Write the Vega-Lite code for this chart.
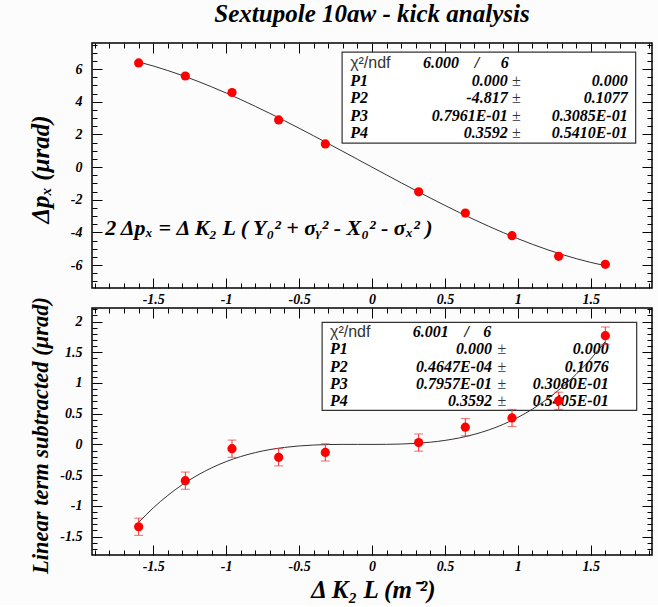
{
  "$schema": "https://vega.github.io/schema/vega-lite/v6.json",
  "autosize": {"type": "pad"},
  "padding": {"left": 27, "top": 1, "right": 7, "bottom": 2},
  "background": "#fcfcfc",
  "title": {"text": "Sextupole 10aw - kick analysis", "font": "Liberation Serif", "fontSize": 25, "fontWeight": "bold", "fontStyle": "italic", "color": "black", "anchor": "middle", "frame": "group", "offset": 15},
  "spacing": 20,
  "bounds": "flush",
  "datasets": {
    "topPts": [{"k": -1.6, "dp": 6.38}, {"k": -1.28, "dp": 5.58}, {"k": -0.96, "dp": 4.57}, {"k": -0.64, "dp": 2.89}, {"k": -0.32, "dp": 1.42}, {"k": 0.32, "dp": -1.51}, {"k": 0.64, "dp": -2.81}, {"k": 0.96, "dp": -4.2}, {"k": 1.28, "dp": -5.46}, {"k": 1.6, "dp": -5.95}],
    "botPts": [{"k": -1.6, "r": -1.34, "err": 0.14}, {"k": -1.28, "r": -0.59, "err": 0.14}, {"k": -0.96, "r": -0.07, "err": 0.14}, {"k": -0.64, "r": -0.21, "err": 0.14}, {"k": -0.32, "r": -0.13, "err": 0.14}, {"k": 0.32, "r": 0.03, "err": 0.14}, {"k": 0.64, "r": 0.28, "err": 0.14}, {"k": 0.96, "r": 0.43, "err": 0.14}, {"k": 1.28, "r": 0.71, "err": 0.14}, {"k": 1.6, "r": 1.77, "err": 0.14}],
    "topFit": [{"k": -1.6, "f": 6.4397}, {"k": -1.5, "f": 6.1923}, {"k": -1.4, "f": 5.9142}, {"k": -1.3, "f": 5.6074}, {"k": -1.2, "f": 5.2743}, {"k": -1.1, "f": 4.9169}, {"k": -1, "f": 4.5374}, {"k": -0.9, "f": 4.1379}, {"k": -0.8, "f": 3.7207}, {"k": -0.7, "f": 3.2877}, {"k": -0.6, "f": 2.8413}, {"k": -0.5, "f": 2.3835}, {"k": -0.4, "f": 1.9165}, {"k": -0.3, "f": 1.4426}, {"k": -0.2, "f": 0.9637}, {"k": -0.1, "f": 0.4821}, {"k": 0, "f": 0}, {"k": 0.1, "f": -0.4805}, {"k": 0.2, "f": -0.9573}, {"k": 0.3, "f": -1.4282}, {"k": 0.4, "f": -1.8911}, {"k": 0.5, "f": -2.3437}, {"k": 0.6, "f": -2.7839}, {"k": 0.7, "f": -3.2097}, {"k": 0.8, "f": -3.6187}, {"k": 0.9, "f": -4.0089}, {"k": 1, "f": -4.3782}, {"k": 1.1, "f": -4.7243}, {"k": 1.2, "f": -5.0451}, {"k": 1.3, "f": -5.3384}, {"k": 1.4, "f": -5.6022}, {"k": 1.5, "f": -5.8341}, {"k": 1.6, "f": -6.0321}],
    "botFit": [{"k": -1.6, "f": -1.2676}, {"k": -1.5, "f": -1.0333}, {"k": -1.4, "f": -0.8296}, {"k": -1.3, "f": -0.6547}, {"k": -1.2, "f": -0.5061}, {"k": -1.1, "f": -0.3818}, {"k": -1, "f": -0.2796}, {"k": -0.9, "f": -0.1974}, {"k": -0.8, "f": -0.133}, {"k": -0.7, "f": -0.0842}, {"k": -0.6, "f": -0.049}, {"k": -0.5, "f": -0.025}, {"k": -0.4, "f": -0.0103}, {"k": -0.3, "f": -0.0025}, {"k": -0.2, "f": 0.0003}, {"k": -0.1, "f": 0.0004}, {"k": 0, "f": 0}, {"k": 0.1, "f": 0.0012}, {"k": 0.2, "f": 0.0061}, {"k": 0.3, "f": 0.0169}, {"k": 0.4, "f": 0.0357}, {"k": 0.5, "f": 0.0648}, {"k": 0.6, "f": 0.1062}, {"k": 0.7, "f": 0.1622}, {"k": 0.8, "f": 0.2348}, {"k": 0.9, "f": 0.3264}, {"k": 1, "f": 0.4388}, {"k": 1.1, "f": 0.5744}, {"k": 1.2, "f": 0.7353}, {"k": 1.3, "f": 0.9237}, {"k": 1.4, "f": 1.1416}, {"k": 1.5, "f": 1.3913}, {"k": 1.6, "f": 1.675}],
    "topStats": [{"p": "P1", "v": "0.000", "e": "0.000", "y": 5.3}, {"p": "P2", "v": "-4.817", "e": "0.1077", "y": 4.23}, {"p": "P3", "v": "0.7961E-01", "e": "0.3085E-01", "y": 3.15}, {"p": "P4", "v": "0.3592", "e": "0.5410E-01", "y": 2.08}],
    "topHead": [{"a": "χ²/ndf", "b": "6.000", "c": "/", "d": "6", "y": 6.37}],
    "botStats": [{"p": "P1", "v": "0.000", "e": "0.000", "y": 1.547}, {"p": "P2", "v": "0.4647E-04", "e": "0.1076", "y": 1.262}, {"p": "P3", "v": "0.7957E-01", "e": "0.3080E-01", "y": 0.985}, {"p": "P4", "v": "0.3592", "e": "0.5405E-01", "y": 0.708}],
    "botHead": [{"a": "χ²/ndf", "b": "6.001", "c": "/", "d": "6", "y": 1.824}]
  },
  "vconcat": [
    {
      "width": 560,
      "height": 245,
      "resolve": {"axis": {"x": "independent", "y": "independent"}},
      "layer": [
        {
          "data": {"values": [{}]},
          "mark": {"type": "rect", "fill": "white", "stroke": "#333333", "strokeWidth": 1.2},
          "encoding": {
            "x": {"datum": -0.205, "type": "quantitative", "scale": {"domain": [-1.92, 1.92], "nice": false, "zero": false},
              "axis": {"orient": "bottom", "values": [-1.9,-1.8,-1.7,-1.6,-1.4,-1.3,-1.2,-1.1,-0.9,-0.8,-0.7,-0.6,-0.4,-0.3,-0.2,-0.1,0.1,0.2,0.3,0.4,0.6,0.7,0.8,0.9,1.1,1.2,1.3,1.4,1.6,1.7,1.8,1.9], "tickSize": -5, "labels": false, "title": null}},
            "x2": {"datum": 1.808},
            "y": {"datum": 7.04, "type": "quantitative", "scale": {"domain": [-7.4, 7.6], "nice": false, "zero": false},
              "axis": {"orient": "left", "values": [-7,-6.5,-5.5,-5,-4.5,-3.5,-3,-2.5,-1.5,-1,-0.5,0.5,1,1.5,2.5,3,3.5,4.5,5,5.5,6.5,7,7.5], "tickSize": -5, "labels": false, "title": null}},
            "y2": {"datum": 1.47}
          }
        },
        {
          "data": {"name": "topHead"},
          "mark": {"type": "text", "align": "left", "baseline": "middle", "font": "Liberation Sans", "fontSize": 16, "color": "#333333"},
          "encoding": {
            "x": {"datum": -0.15, "type": "quantitative", "scale": {"domain": [-1.92, 1.92], "nice": false, "zero": false},
              "axis": {"orient": "top", "values": [-1.9,-1.8,-1.7,-1.6,-1.4,-1.3,-1.2,-1.1,-0.9,-0.8,-0.7,-0.6,-0.4,-0.3,-0.2,-0.1,0.1,0.2,0.3,0.4,0.6,0.7,0.8,0.9,1.1,1.2,1.3,1.4,1.6,1.7,1.8,1.9], "tickSize": -5, "labels": false, "title": null}},
            "y": {"field": "y", "type": "quantitative", "scale": {"domain": [-7.4, 7.6], "nice": false, "zero": false},
              "axis": {"orient": "right", "values": [-7,-6.5,-5.5,-5,-4.5,-3.5,-3,-2.5,-1.5,-1,-0.5,0.5,1,1.5,2.5,3,3.5,4.5,5,5.5,6.5,7,7.5], "tickSize": -5, "labels": false, "title": null}},
            "text": {"field": "a"}
          }
        },
        {
          "data": {"name": "topHead"},
          "mark": {"type": "text", "align": "left", "baseline": "middle", "font": "Liberation Serif", "fontSize": 16, "fontWeight": "bold", "fontStyle": "italic", "color": "black"},
          "encoding": {
            "x": {"datum": 0.35, "type": "quantitative", "scale": {"domain": [-1.92, 1.92], "nice": false, "zero": false}, "axis": null},
            "y": {"field": "y", "type": "quantitative", "scale": {"domain": [-7.4, 7.6], "nice": false, "zero": false}, "axis": null},
            "text": {"field": "b"}
          }
        },
        {
          "data": {"name": "topHead"},
          "mark": {"type": "text", "align": "center", "baseline": "middle", "font": "Liberation Serif", "fontSize": 16, "fontWeight": "bold", "fontStyle": "italic", "color": "black"},
          "encoding": {
            "x": {"datum": 0.72, "type": "quantitative", "scale": {"domain": [-1.92, 1.92], "nice": false, "zero": false}, "axis": null},
            "y": {"field": "y", "type": "quantitative", "scale": {"domain": [-7.4, 7.6], "nice": false, "zero": false}, "axis": null},
            "text": {"field": "c"}
          }
        },
        {
          "data": {"name": "topHead"},
          "mark": {"type": "text", "align": "center", "baseline": "middle", "font": "Liberation Serif", "fontSize": 16, "fontWeight": "bold", "fontStyle": "italic", "color": "black"},
          "encoding": {
            "x": {"datum": 0.91, "type": "quantitative", "scale": {"domain": [-1.92, 1.92], "nice": false, "zero": false}, "axis": null},
            "y": {"field": "y", "type": "quantitative", "scale": {"domain": [-7.4, 7.6], "nice": false, "zero": false}, "axis": null},
            "text": {"field": "d"}
          }
        },
        {
          "data": {"name": "topStats"},
          "mark": {"type": "text", "align": "left", "baseline": "middle", "font": "Liberation Serif", "fontSize": 16, "fontWeight": "bold", "fontStyle": "italic", "color": "black"},
          "encoding": {
            "x": {"datum": -0.15, "type": "quantitative", "scale": {"domain": [-1.92, 1.92], "nice": false, "zero": false}, "axis": null},
            "y": {"field": "y", "type": "quantitative", "scale": {"domain": [-7.4, 7.6], "nice": false, "zero": false}, "axis": null},
            "text": {"field": "p"}
          }
        },
        {
          "data": {"name": "topStats"},
          "mark": {"type": "text", "align": "right", "baseline": "middle", "font": "Liberation Serif", "fontSize": 16, "fontWeight": "bold", "fontStyle": "italic", "color": "black"},
          "encoding": {
            "x": {"datum": 0.93, "type": "quantitative", "scale": {"domain": [-1.92, 1.92], "nice": false, "zero": false}, "axis": null},
            "y": {"field": "y", "type": "quantitative", "scale": {"domain": [-7.4, 7.6], "nice": false, "zero": false}, "axis": null},
            "text": {"field": "v"}
          }
        },
        {
          "data": {"name": "topStats"},
          "mark": {"type": "text", "text": "±", "align": "center", "baseline": "middle", "font": "Liberation Serif", "fontSize": 16, "color": "#333333"},
          "encoding": {
            "x": {"datum": 0.99, "type": "quantitative", "scale": {"domain": [-1.92, 1.92], "nice": false, "zero": false}, "axis": null},
            "y": {"field": "y", "type": "quantitative", "scale": {"domain": [-7.4, 7.6], "nice": false, "zero": false}, "axis": null}
          }
        },
        {
          "data": {"name": "topStats"},
          "mark": {"type": "text", "align": "right", "baseline": "middle", "font": "Liberation Serif", "fontSize": 16, "fontWeight": "bold", "fontStyle": "italic", "color": "black"},
          "encoding": {
            "x": {"datum": 1.753, "type": "quantitative", "scale": {"domain": [-1.92, 1.92], "nice": false, "zero": false}, "axis": null},
            "y": {"field": "y", "type": "quantitative", "scale": {"domain": [-7.4, 7.6], "nice": false, "zero": false}, "axis": null},
            "text": {"field": "e"}
          }
        },
        {
          "data": {"values": [{}]},
          "mark": {"type": "text", "text": "2 Δpₓ = Δ K₂ L ( Y₀² + σᵧ² -  X₀² - σₓ² )", "align": "left", "baseline": "middle", "font": "Liberation Serif", "fontSize": 22, "fontWeight": "bold", "fontStyle": "italic", "color": "black"},
          "encoding": {
            "x": {"datum": -1.83, "type": "quantitative", "scale": {"domain": [-1.92, 1.92], "nice": false, "zero": false}, "axis": null},
            "y": {"datum": -3.73, "type": "quantitative", "scale": {"domain": [-7.4, 7.6], "nice": false, "zero": false}, "axis": null}
          }
        },
        {
          "data": {"name": "topFit"},
          "mark": {"type": "line", "color": "#333333", "strokeWidth": 1, "interpolate": "monotone"},
          "encoding": {
            "x": {"field": "k", "type": "quantitative", "scale": {"domain": [-1.92, 1.92], "nice": false, "zero": false},
              "axis": {"orient": "bottom", "values": [-1.5,-1,-0.5,0,0.5,1,1.5], "tickSize": -10, "labelExpr": "toString(datum.value)", "labelPadding": 14, "title": null}},
            "y": {"field": "f", "type": "quantitative", "scale": {"domain": [-7.4, 7.6], "nice": false, "zero": false},
              "axis": {"orient": "left", "values": [-6,-4,-2,0,2,4,6], "tickSize": -10, "labelExpr": "toString(datum.value)", "labelPadding": 20,
                "title": "Δpₓ (μrad)", "titleFont": "Liberation Serif", "titleFontSize": 25, "titleFontWeight": "bold", "titleFontStyle": "italic", "titleX": -52, "titleY": 126, "titleAlign": "center", "titleBaseline": "middle", "titleAngle": 270}}
          }
        },
        {
          "data": {"name": "topPts"},
          "mark": {"type": "circle", "color": "#ff0000", "opacity": 1, "size": 85},
          "encoding": {
            "x": {"field": "k", "type": "quantitative", "scale": {"domain": [-1.92, 1.92], "nice": false, "zero": false},
              "axis": {"orient": "top", "values": [-1.5,-1,-0.5,0,0.5,1,1.5], "tickSize": -10, "labels": false, "title": null}},
            "y": {"field": "dp", "type": "quantitative", "scale": {"domain": [-7.4, 7.6], "nice": false, "zero": false},
              "axis": {"orient": "right", "values": [-6,-4,-2,0,2,4,6], "tickSize": -10, "labels": false, "title": null}}
          }
        }
      ]
    },
    {
      "width": 560,
      "height": 247,
      "resolve": {"axis": {"x": "independent", "y": "independent"}},
      "layer": [
        {
          "data": {"values": [{}]},
          "mark": {"type": "rect", "fill": "white", "stroke": "#333333", "strokeWidth": 1.2},
          "encoding": {
            "x": {"datum": -0.342, "type": "quantitative", "scale": {"domain": [-1.92, 1.92], "nice": false, "zero": false},
              "axis": {"orient": "bottom", "values": [-1.9,-1.8,-1.7,-1.6,-1.4,-1.3,-1.2,-1.1,-0.9,-0.8,-0.7,-0.6,-0.4,-0.3,-0.2,-0.1,0.1,0.2,0.3,0.4,0.6,0.7,0.8,0.9,1.1,1.2,1.3,1.4,1.6,1.7,1.8,1.9], "tickSize": -5, "labels": false, "title": null}},
            "x2": {"datum": 1.815},
            "y": {"datum": 1.987, "type": "quantitative", "scale": {"domain": [-1.8, 2.22], "nice": false, "zero": false},
              "axis": {"orient": "left", "values": [-1.7,-1.6,-1.4,-1.3,-1.2,-1.1,-0.9,-0.8,-0.7,-0.6,-0.4,-0.3,-0.2,-0.1,0.1,0.2,0.3,0.4,0.6,0.7,0.8,0.9,1.1,1.2,1.3,1.4,1.6,1.7,1.8,1.9,2.1,2.2], "tickSize": -5, "labels": false, "title": null}},
            "y2": {"datum": 0.554}
          }
        },
        {
          "data": {"name": "botHead"},
          "mark": {"type": "text", "align": "left", "baseline": "middle", "font": "Liberation Sans", "fontSize": 16, "color": "#333333"},
          "encoding": {
            "x": {"datum": -0.288, "type": "quantitative", "scale": {"domain": [-1.92, 1.92], "nice": false, "zero": false},
              "axis": {"orient": "top", "values": [-1.9,-1.8,-1.7,-1.6,-1.4,-1.3,-1.2,-1.1,-0.9,-0.8,-0.7,-0.6,-0.4,-0.3,-0.2,-0.1,0.1,0.2,0.3,0.4,0.6,0.7,0.8,0.9,1.1,1.2,1.3,1.4,1.6,1.7,1.8,1.9], "tickSize": -5, "labels": false, "title": null}},
            "y": {"field": "y", "type": "quantitative", "scale": {"domain": [-1.8, 2.22], "nice": false, "zero": false},
              "axis": {"orient": "right", "values": [-1.7,-1.6,-1.4,-1.3,-1.2,-1.1,-0.9,-0.8,-0.7,-0.6,-0.4,-0.3,-0.2,-0.1,0.1,0.2,0.3,0.4,0.6,0.7,0.8,0.9,1.1,1.2,1.3,1.4,1.6,1.7,1.8,1.9,2.1,2.2], "tickSize": -5, "labels": false, "title": null}},
            "text": {"field": "a"}
          }
        },
        {
          "data": {"name": "botHead"},
          "mark": {"type": "text", "align": "left", "baseline": "middle", "font": "Liberation Serif", "fontSize": 16, "fontWeight": "bold", "fontStyle": "italic", "color": "black"},
          "encoding": {
            "x": {"datum": 0.28, "type": "quantitative", "scale": {"domain": [-1.92, 1.92], "nice": false, "zero": false}, "axis": null},
            "y": {"field": "y", "type": "quantitative", "scale": {"domain": [-1.8, 2.22], "nice": false, "zero": false}, "axis": null},
            "text": {"field": "b"}
          }
        },
        {
          "data": {"name": "botHead"},
          "mark": {"type": "text", "align": "center", "baseline": "middle", "font": "Liberation Serif", "fontSize": 16, "fontWeight": "bold", "fontStyle": "italic", "color": "black"},
          "encoding": {
            "x": {"datum": 0.65, "type": "quantitative", "scale": {"domain": [-1.92, 1.92], "nice": false, "zero": false}, "axis": null},
            "y": {"field": "y", "type": "quantitative", "scale": {"domain": [-1.8, 2.22], "nice": false, "zero": false}, "axis": null},
            "text": {"field": "c"}
          }
        },
        {
          "data": {"name": "botHead"},
          "mark": {"type": "text", "align": "center", "baseline": "middle", "font": "Liberation Serif", "fontSize": 16, "fontWeight": "bold", "fontStyle": "italic", "color": "black"},
          "encoding": {
            "x": {"datum": 0.79, "type": "quantitative", "scale": {"domain": [-1.92, 1.92], "nice": false, "zero": false}, "axis": null},
            "y": {"field": "y", "type": "quantitative", "scale": {"domain": [-1.8, 2.22], "nice": false, "zero": false}, "axis": null},
            "text": {"field": "d"}
          }
        },
        {
          "data": {"name": "botStats"},
          "mark": {"type": "text", "align": "left", "baseline": "middle", "font": "Liberation Serif", "fontSize": 16, "fontWeight": "bold", "fontStyle": "italic", "color": "black"},
          "encoding": {
            "x": {"datum": -0.288, "type": "quantitative", "scale": {"domain": [-1.92, 1.92], "nice": false, "zero": false}, "axis": null},
            "y": {"field": "y", "type": "quantitative", "scale": {"domain": [-1.8, 2.22], "nice": false, "zero": false}, "axis": null},
            "text": {"field": "p"}
          }
        },
        {
          "data": {"name": "botStats"},
          "mark": {"type": "text", "align": "right", "baseline": "middle", "font": "Liberation Serif", "fontSize": 16, "fontWeight": "bold", "fontStyle": "italic", "color": "black"},
          "encoding": {
            "x": {"datum": 0.822, "type": "quantitative", "scale": {"domain": [-1.92, 1.92], "nice": false, "zero": false}, "axis": null},
            "y": {"field": "y", "type": "quantitative", "scale": {"domain": [-1.8, 2.22], "nice": false, "zero": false}, "axis": null},
            "text": {"field": "v"}
          }
        },
        {
          "data": {"name": "botStats"},
          "mark": {"type": "text", "text": "±", "align": "center", "baseline": "middle", "font": "Liberation Serif", "fontSize": 16, "color": "#333333"},
          "encoding": {
            "x": {"datum": 0.89, "type": "quantitative", "scale": {"domain": [-1.92, 1.92], "nice": false, "zero": false}, "axis": null},
            "y": {"field": "y", "type": "quantitative", "scale": {"domain": [-1.8, 2.22], "nice": false, "zero": false}, "axis": null}
          }
        },
        {
          "data": {"name": "botStats"},
          "mark": {"type": "text", "align": "right", "baseline": "middle", "font": "Liberation Serif", "fontSize": 16, "fontWeight": "bold", "fontStyle": "italic", "color": "black"},
          "encoding": {
            "x": {"datum": 1.623, "type": "quantitative", "scale": {"domain": [-1.92, 1.92], "nice": false, "zero": false}, "axis": null},
            "y": {"field": "y", "type": "quantitative", "scale": {"domain": [-1.8, 2.22], "nice": false, "zero": false}, "axis": null},
            "text": {"field": "e"}
          }
        },
        {
          "data": {"name": "botFit"},
          "mark": {"type": "line", "color": "#333333", "strokeWidth": 1, "interpolate": "monotone"},
          "encoding": {
            "x": {"field": "k", "type": "quantitative", "scale": {"domain": [-1.92, 1.92], "nice": false, "zero": false},
              "axis": {"orient": "bottom", "values": [-1.5,-1,-0.5,0,0.5,1,1.5], "tickSize": -10, "labelExpr": "toString(datum.value)", "labelPadding": 14,
                "title": "Δ K₂ L (m⁻²)", "titleFont": "Liberation Serif", "titleFontSize": 25, "titleFontWeight": "bold", "titleFontStyle": "italic", "titleX": 281, "titleY": 34, "titleAlign": "center", "titleBaseline": "middle"}},
            "y": {"field": "f", "type": "quantitative", "scale": {"domain": [-1.8, 2.22], "nice": false, "zero": false},
              "axis": {"orient": "left", "values": [-1.5,-1,-0.5,0,0.5,1,1.5,2], "tickSize": -10, "labelExpr": "toString(datum.value)", "labelPadding": 20,
                "title": "Linear term subtracted (μrad)", "titleFont": "Liberation Serif", "titleFontSize": 22.5, "titleFontWeight": "bold", "titleFontStyle": "italic", "titleX": -52, "titleY": 127, "titleAlign": "center", "titleBaseline": "middle", "titleAngle": 270}}
          }
        },
        {
          "data": {"name": "botPts"},
          "mark": {"type": "errorbar", "ticks": {"size": 9, "color": "#e83030"}, "rule": {"color": "#e83030"}, "color": "#e83030", "thickness": 1},
          "encoding": {
            "x": {"field": "k", "type": "quantitative", "scale": {"domain": [-1.92, 1.92], "nice": false, "zero": false}, "axis": null},
            "y": {"field": "r", "type": "quantitative", "scale": {"domain": [-1.8, 2.22], "nice": false, "zero": false}, "axis": null},
            "yError": {"field": "err"}
          }
        },
        {
          "data": {"name": "botPts"},
          "mark": {"type": "circle", "color": "#ff0000", "opacity": 1, "size": 85},
          "encoding": {
            "x": {"field": "k", "type": "quantitative", "scale": {"domain": [-1.92, 1.92], "nice": false, "zero": false},
              "axis": {"orient": "top", "values": [-1.5,-1,-0.5,0,0.5,1,1.5], "tickSize": -10, "labels": false, "title": null}},
            "y": {"field": "r", "type": "quantitative", "scale": {"domain": [-1.8, 2.22], "nice": false, "zero": false},
              "axis": {"orient": "right", "values": [-1.5,-1,-0.5,0,0.5,1,1.5,2], "tickSize": -10, "labels": false, "title": null}}
          }
        }
      ]
    }
  ],
  "config": {
    "view": {"stroke": "black", "strokeWidth": 1.5},
    "axis": {"domain": false, "grid": false, "ticks": true, "tickColor": "black", "tickWidth": 1, "labelFont": "Liberation Serif", "labelFontSize": 14, "labelFontWeight": "bold", "labelFontStyle": "italic", "labelColor": "black", "labelOverlap": false, "labelFlush": false, "labelBound": false, "titleColor": "black"}
  }
}
